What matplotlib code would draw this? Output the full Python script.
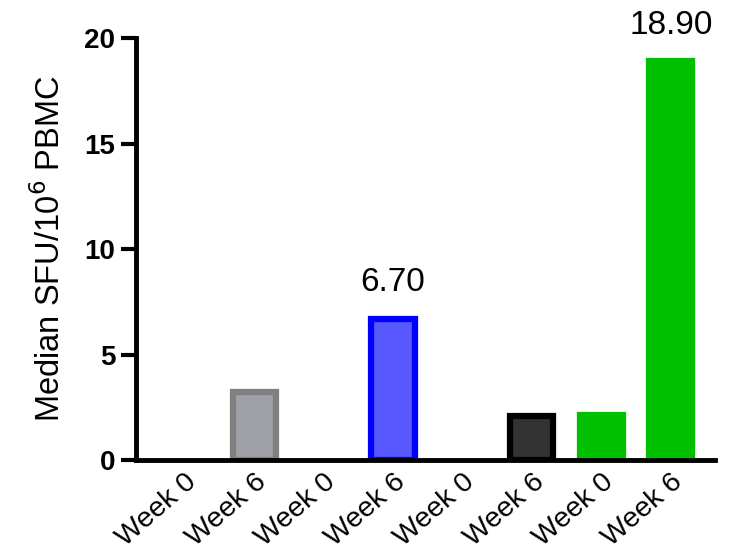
import matplotlib
matplotlib.use("Agg")
import matplotlib.pyplot as plt
from matplotlib.transforms import ScaledTranslation

categories = ["Week 0", "Week 6", "Week 0", "Week 6", "Week 0", "Week 6", "Week 0", "Week 6"]
values = [0, 3.2, 0, 6.70, 0, 2.1, 2.15, 18.90]
fill_colors = ["#A0A0A8", "#A0A0A8", "#5858FF", "#5858FF", "#333333", "#333333", "#00C000", "#00C000"]
edge_colors = ["#808080", "#808080", "#0000FF", "#0000FF", "#000000", "#000000", "#00C000", "#00C000"]
annotated = {3: "6.70", 7: "18.90"}
yticks = [0, 5, 10, 15, 20]

plt.rcParams['font.family'] = ['Liberation Sans', 'DejaVu Sans']

fig = plt.figure(figsize=(7.33, 5.52), dpi=100)
ax = fig.add_axes([0.1855, 0.1667, 0.7895, 0.7643])

x = list(range(len(categories)))
for i in x:
    if values[i] > 0:
        ax.bar(i, values[i], width=0.62, color=fill_colors[i], edgecolor=edge_colors[i],
               linewidth=4.5, zorder=2)
for i, t in annotated.items():
    ax.text(i, values[i] + 1.3, t, ha='center', va='baseline', fontsize=24)

ax.set_xlim(-0.7, 7.63)
ax.set_ylim(0, 20)
ax.set_yticks(yticks)
ax.set_yticklabels([str(v) for v in yticks], fontsize=20, fontweight='bold')
ax.set_xticks(x)
ax.set_xticklabels(categories, rotation=41, ha='right', va='top', rotation_mode='anchor', fontsize=20.5)
offset = ScaledTranslation(0.14, 0.0, fig.dpi_scale_trans)
for lab in ax.get_xticklabels():
    lab.set_transform(lab.get_transform() + offset)
ax.tick_params(axis='x', length=0, pad=6.5)
ax.tick_params(axis='y', length=11, width=3, pad=4)
for s in ['top', 'right']:
    ax.spines[s].set_visible(False)
for s in ['left', 'bottom']:
    ax.spines[s].set_linewidth(3.5)
    ax.spines[s].set_zorder(5)
ax.spines['left'].set_bounds(0, 20)
ax.set_ylabel("Median SFU/10$^{6}$ PBMC", fontsize=23.5, labelpad=12)

fig.savefig("out.png", dpi=100)
